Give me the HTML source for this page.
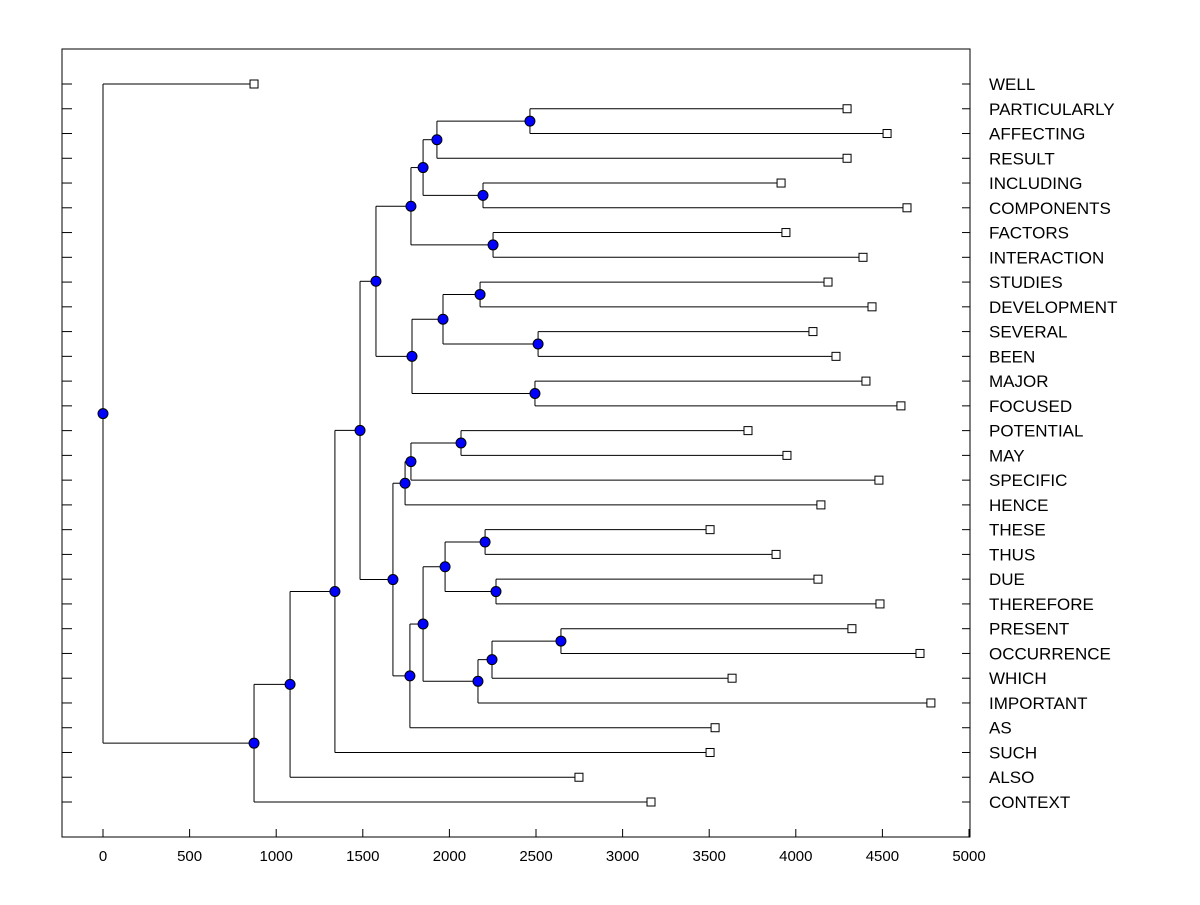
<!DOCTYPE html>
<html><head><meta charset="utf-8"><style>
body{margin:0;background:#fff}
svg text{font-family:"Liberation Sans",Arial,sans-serif}
</style></head><body>
<svg id="chart" width="1200" height="900" xmlns="http://www.w3.org/2000/svg">
<rect x="62" y="49" width="908" height="788" fill="none" stroke="#000" stroke-width="1"/>
<g id="g"></g>
</svg>
<script>
const labels=["WELL","PARTICULARLY","AFFECTING","RESULT","INCLUDING","COMPONENTS","FACTORS","INTERACTION","STUDIES","DEVELOPMENT","SEVERAL","BEEN","MAJOR","FOCUSED","POTENTIAL","MAY","SPECIFIC","HENCE","THESE","THUS","DUE","THEREFORE","PRESENT","OCCURRENCE","WHICH","IMPORTANT","AS","SUCH","ALSO","CONTEXT"];
const leafValues=[872,4296,4527,4296,3915,4642,3943,4388,4186,4440,4099,4232,4405,4607,3724,3949,4480,4145,3505,3886,4128,4486,4324,4717,3632,4780,3534,3505,2748,3164];
const mergeA=["L1","N0","L4","N1","L6","N3","L8","L10","N6","L12","N8","N5","L14","N12","N13","L18","L20","N15","L22","N18","N19","N17","N21","N14","N11","N24","N25","N26","L0"];
const mergeB=["L2","L3","L5","N2","L7","N4","L9","L11","N7","L13","N9","N10","L15","L16","L17","L19","L21","N16","L23","L24","L25","N20","L26","N22","N23","L27","L28","L29","N27"];
const mergeH=[2465,1928,2194,1848,2252,1778,2177,2512,1963,2494,1784,1576,2067,1778,1744,2206,2269,1975,2644,2246,2165,1848,1772,1674,1484,1339,1080,872,0];
const xTicks=[0,500,1000,1500,2000,2500,3000,3500,4000,4500,5000];
const X=v=>103+v*(969-103)/5000;
const Yrow=i=>84+i*(802-84)/29;
const NS="http://www.w3.org/2000/svg";
const g=document.getElementById('g');
function mk(t,a){const e=document.createElementNS(NS,t);for(const k in a)e.setAttribute(k,a[k]);g.appendChild(e);return e;}
const pos={};
labels.forEach((l,i)=>{pos["L"+i]={x:X(leafValues[i]),y:Yrow(i)};});
const nodes=[];
mergeH.forEach((h,i)=>{const a=pos[mergeA[i]],b=pos[mergeB[i]];const x=X(h);
  let e=mk('line',{x1:x,y1:a.y,x2:x,y2:b.y,stroke:'#000'});
  
  e=mk('line',{x1:x,y1:a.y,x2:a.x,y2:a.y,stroke:'#000'});
  
  e=mk('line',{x1:x,y1:b.y,x2:b.x,y2:b.y,stroke:'#000'});
  
  pos["N"+i]={x:x,y:(a.y+b.y)/2};nodes.push(pos["N"+i]);});
nodes.forEach(p=>{const e=mk('circle',{cx:p.x,cy:p.y,r:5,fill:'#0000ff',stroke:'#000','stroke-width':1});
  });
labels.forEach((l,i)=>{const p=pos["L"+i];
  let e=mk('rect',{x:p.x-4,y:p.y-4,width:8,height:8,fill:'#fff',stroke:'#000'});
  
  e=mk('line',{x1:62,y1:p.y,x2:72,y2:p.y,stroke:'#000'});
  
  e=mk('line',{x1:962,y1:p.y,x2:970,y2:p.y,stroke:'#000'});
  
  e=mk('text',{x:989,y:p.y+6,'font-size':17});e.textContent=l;
  });
xTicks.forEach(t=>{const x=X(t);
  let e=mk('line',{x1:x,y1:837,x2:x,y2:829,stroke:'#000'});
  
  e=mk('text',{x:x,y:861,'font-size':15,'text-anchor':'middle'});e.textContent=t;
  });
</script>
</body></html>
